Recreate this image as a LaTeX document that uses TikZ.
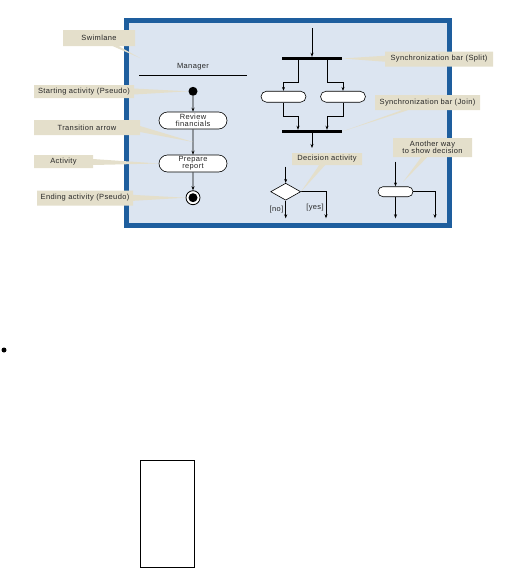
\documentclass[tikz,border=0pt]{standalone}
\usepackage{fontspec}
\setmainfont{Liberation Sans}[LetterSpace=5]
\usetikzlibrary{arrows.meta, positioning, shapes.geometric, shapes.misc, shapes.callouts, calc}
\definecolor{laneblue}{HTML}{DCE5F1}
\definecolor{frameblue}{HTML}{1E5E9E}
\definecolor{notebeige}{HTML}{E4DFCB}

\begin{document}
\begin{tikzpicture}[x=1pt, y=-1pt, font=\fontsize{7.5}{7}\selectfont, text=black!85,
    arr/.style={-{Stealth[length=4pt,width=3pt]}, line width=0.7pt},
    activity/.style={rounded rectangle, draw, fill=white, line width=0.6pt, minimum width=68pt, minimum height=17pt, inner sep=0pt, align=center},
    pseudostart/.style={circle, fill=black, minimum size=9pt, inner sep=0pt},
    pseudoend/.style={circle, draw, fill=white, line width=0.8pt, minimum size=14pt, inner sep=0pt},
    syncbar/.style={fill=black, minimum width=60pt, minimum height=3pt, inner sep=0pt},
    decision/.style={diamond, draw, fill=white, line width=0.6pt, minimum width=30pt, minimum height=17pt, inner sep=0pt},
    note/.style={rectangle callout, fill=notebeige, callout pointer width=6pt, inner sep=0pt, align=center}]
        \useasboundingbox (0,0) rectangle (511,568);
        \draw [frameblue, line width=5pt, fill=laneblue] (126.5,20.5) rectangle (449.5,225.5);

        % swimlane
        \node (mgr) at (193,67) {Manager};
        \draw [line width=0.6pt] (139,75.7) -- (247,75.7);
        \node [pseudostart] (start) at (193,91.3) {};
        \node [activity] (review) at (193,120.5) {Review\\financials};
        \node [activity] (prepare) at (193,163.5) {Prepare\\report};
        \node [pseudoend] (finish) at (193,197.7) {};
        \node [pseudostart] (finishdot) at (finish) {};
        \coordinate (trans) at (193,142);
        \draw [arr] (start) -- (review); \draw [arr] (review) -- (prepare); \draw [arr] (prepare) -- (finish);

        % split and join
        \coordinate (splitin) at (312,28);
        \node [syncbar] (split) at (312,58.5) {};
        \node [activity, minimum width=45pt, minimum height=11pt] (lpar) at (283.5,96.7) {};
        \node [activity, minimum width=45pt, minimum height=11pt] (rpar) at (343,96.7) {};
        \node [syncbar] (join) at (312,131.5) {};
        \coordinate (joinout) at (312,148);
        \draw [arr] (splitin) -- (split);
        \draw [arr] ([xshift=-14pt]split.south) -- ++(0,22) -| (lpar.north);
        \draw [arr] ([xshift=15pt]split.south) -- ++(0,22) -| (rpar.north);
        \draw [arr] (lpar.south) -- ++(0,14) -| ([xshift=-14pt]join.north);
        \draw [arr] (rpar.south) -- ++(0,14) -| ([xshift=15pt]join.north);
        \draw [arr] (join) -- (joinout);

        % decisions
        \coordinate (decin) at (285.7,166.7);
        \node [decision] (dec) at (285.7,191.7) {};
        \coordinate (noend) at (285.7,218.3); \coordinate (yesend) at (326,218.3);
        \draw [arr] (decin) -- (dec);
        \draw [arr] (dec.south) -- node[left, inner sep=2pt] {[no]} (noend);
        \draw [arr] (dec.east) -| node[pos=0.8, left, inner sep=2pt] {[yes]} (yesend);

        \coordinate (altin) at (395.5,161.7);
        \node [activity, minimum width=35pt, minimum height=10pt] (alt) at (395.5,191.7) {};
        \coordinate (altleft) at (395.5,218.3); \coordinate (altright) at (435,218.3);
        \draw [arr] (altin) -- (alt);
        \draw [arr] (alt.south) -- (altleft); \draw [arr] (alt.east) -| (altright);

        % callouts
        \node [note, minimum width=72pt, minimum height=16pt, callout absolute pointer={(140,58)}] (swimnote) at (99,38) {Swimlane};
        \node [note, minimum width=100pt, minimum height=13pt, callout absolute pointer={(start.west)}] (startnote) at (84,91.7) {Starting activity (Pseudo)};
        \node [note, minimum width=106pt, minimum height=15pt, callout absolute pointer={(trans)}] (transnote) at (87,127.5) {Transition arrow};
        \node [note, minimum width=59pt, minimum height=13pt, callout absolute pointer={(prepare.west)}] (actnote) at (63.5,161.5) {Activity};
        \node [note, minimum width=96pt, minimum height=15pt, callout absolute pointer={(finish.west)}] (endnote) at (85,198) {Ending activity (Pseudo)};
        \node [note, minimum width=108pt, minimum height=15pt, callout absolute pointer={(split.east)}] (splitnote) at (439,59) {Synchronization bar (Split)};
        \node [note, minimum width=105pt, minimum height=15pt, callout absolute pointer={(join.east)}] (joinnote) at (427.5,102.5) {Synchronization bar (Join)};
        \node [note, minimum width=70pt, minimum height=12pt, callout absolute pointer={(dec.east)}] (decnote) at (327,159) {Decision activity};
        \node [note, minimum width=79pt, minimum height=19pt, callout absolute pointer={(403,182)}] (altnote) at (432.5,147.5) {Another way\\to show decision};

        % below the figure
        \fill (4,350) circle (2.5);
        \draw [line width=0.8pt] (140,460) rectangle (194,567);
    \end{tikzpicture}
\end{document}
